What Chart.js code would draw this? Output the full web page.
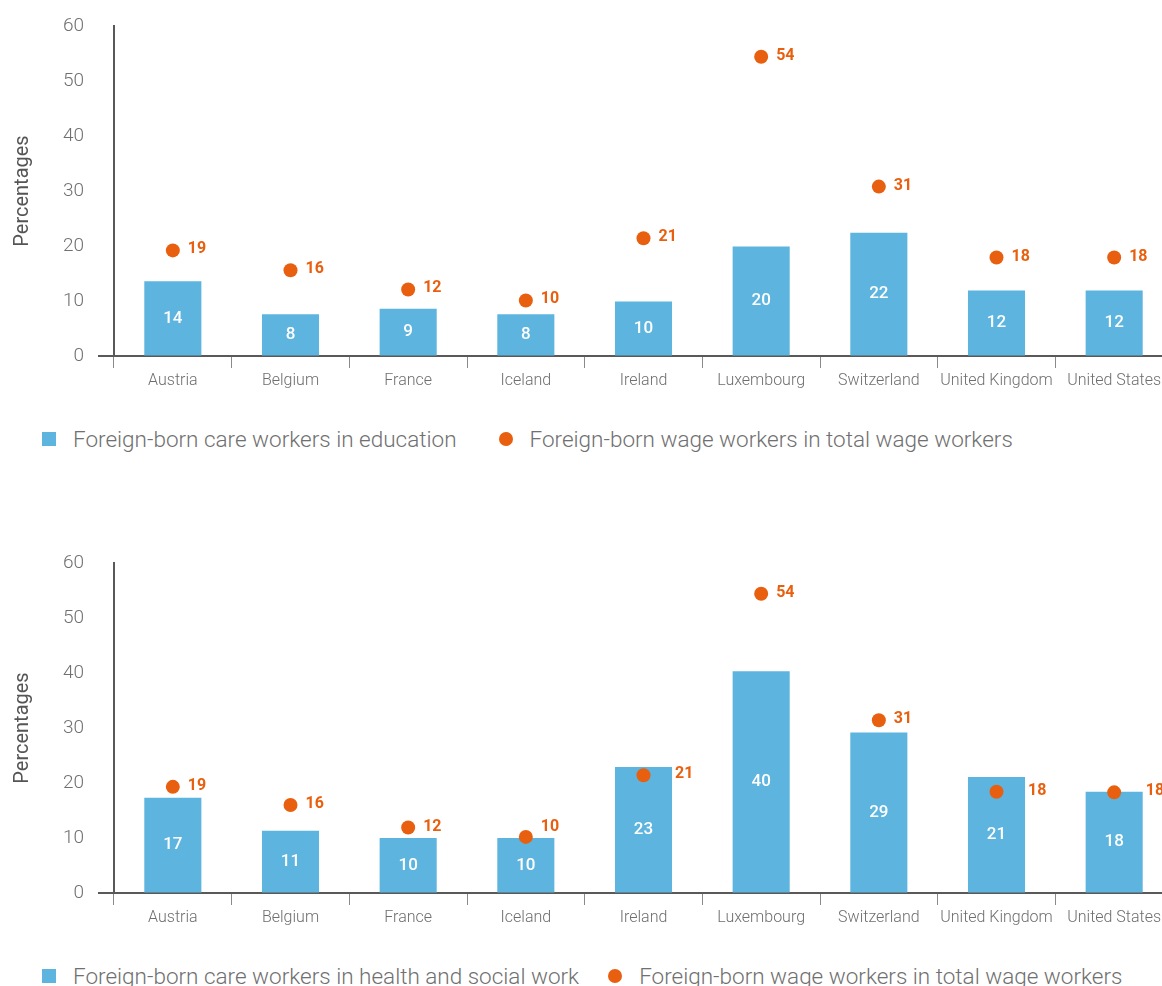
<!DOCTYPE html>
<html>
<head>
<meta charset="utf-8">
<script src="https://cdn.jsdelivr.net/npm/chart.js@4/dist/chart.umd.min.js"></script>
<style>
  body { margin: 0; background: #fff; width: 1162px; height: 986px; overflow: hidden; position: relative;
         font-family: "Helvetica Neue", Roboto, "Liberation Sans", sans-serif; }
  .panel { position: absolute; left: 0; width: 1180px; height: 537px; }
  .box { position: absolute; left: 0; top: 0; width: 1180px; height: 416px; }
  .legend { position: absolute; left: 42px; top: 426px; display: flex; align-items: center;
            font-size: 22.5px; font-weight: 300; color: #707070; white-space: nowrap; line-height: 26px; }
  .legend .sq { width: 14px; height: 14px; background: #5DB4DF; margin-right: 17px; }
  .legend .dot { width: 14px; height: 14px; border-radius: 50%; background: #E8600F; margin-left: 42px; margin-right: 17px; }
  #legendBottom .dot { margin-left: 29px; }
</style>
</head>
<body>
<div class="panel" style="top:0">
  <div class="box"><canvas id="chartTop"></canvas></div>
  <div class="legend"><span class="sq"></span><span>Foreign-born care workers in education</span><span class="dot"></span><span>Foreign-born wage workers in total wage workers</span></div>
</div>
<div class="panel" style="top:537px">
  <div class="box"><canvas id="chartBottom"></canvas></div>
  <div class="legend" id="legendBottom"><span class="sq"></span><span>Foreign-born care workers in health and social work</span><span class="dot"></span><span>Foreign-born wage workers in total wage workers</span></div>
</div>
<script>
const countries = ["Austria", "Belgium", "France", "Iceland", "Ireland", "Luxembourg", "Switzerland", "United Kingdom", "United States"];
const yTicks = [0, 10, 20, 30, 40, 50, 60];

// top panel
const educationShare = [13.6, 7.6, 8.6, 7.6, 9.9, 19.9, 22.4, 11.9, 11.9];
const wageShareTop = [19.2, 15.6, 12.1, 10.1, 21.4, 54.4, 30.8, 17.9, 17.9];

// bottom panel
const healthShare = [17.3, 11.3, 10.0, 10.0, 22.9, 40.3, 29.2, 21.1, 18.4];
const wageShareBottom = [19.3, 16.0, 11.9, 10.2, 21.4, 54.4, 31.4, 18.4, 18.3];

const BLUE = "#5DB4DF";
const ORANGE = "#E8600F";
const AXIS = "#595959";
const FONT = "'Helvetica Neue', Roboto, 'Liberation Sans', sans-serif";

const labelPlugin = {
    id: "labels",
    afterDatasetsDraw(chart) {
        const ctx = chart.ctx;
        const bars = chart.getDatasetMeta(0).data;
        const dots = chart.getDatasetMeta(1).data;
        const barVals = chart.data.datasets[0].data;
        const dotVals = chart.data.datasets[1].data;
        ctx.save();
        // x axis runs a little past the y axis
        const zeroY = chart.scales.y.getPixelForValue(0);
        ctx.strokeStyle = AXIS;
        ctx.lineWidth = 2;
        ctx.beginPath();
        ctx.moveTo(chart.chartArea.left - 16, zeroY);
        ctx.lineTo(chart.chartArea.left, zeroY);
        ctx.stroke();

        ctx.textBaseline = "middle";
        ctx.textAlign = "center";
        ctx.fillStyle = "#fff";
        ctx.font = "500 17px " + FONT;
        bars.forEach((b, i) => {
            ctx.fillText(Math.round(barVals[i]), b.x, (b.y + b.base) / 2);
        });

        ctx.textAlign = "left";
        ctx.fillStyle = ORANGE;
        ctx.font = "bold 16px " + FONT;
        dots.forEach((p, i) => {
            const bar = bars[i];
            let x = p.x + 15, y = p.y - 1;
            if (dotVals[i] <= barVals[i]) {
                x = bar.x + bar.width / 2 + 3;
            } else if (dotVals[i] - barVals[i] < 1.5) {
                y = p.y - 10;
            }
            ctx.fillText(Math.round(dotVals[i]), x, y);
        });
        ctx.restore();
    }
};

function makeChart(id, barData, dotData) {
    return new Chart(document.getElementById(id), {
        type: "bar",
        data: {
            labels: countries,
            datasets: [
                {data: barData, backgroundColor: BLUE, barPercentage: 0.485, categoryPercentage: 1, order: 2},
                {type: "line", data: dotData, showLine: false, pointRadius: 7, pointHoverRadius: 7,
                 pointBackgroundColor: ORANGE, pointBorderWidth: 0, borderColor: ORANGE, order: 1}
            ]
        },
        options: {
            responsive: true,
            maintainAspectRatio: false,
            animation: false,
            layout: {padding: {top: 26, left: 0, right: 0, bottom: 0}},
            plugins: {legend: {display: false}, tooltip: {enabled: false}},
            scales: {
                x: {
                    offset: true,
                    grid: {display: true, drawOnChartArea: false, drawTicks: true, tickLength: 12, color: "#8a8a8a", lineWidth: 1, offset: true},
                    border: {display: true, color: AXIS, width: 2},
                    ticks: {color: "#6e6e6e", font: {family: FONT, size: 16, weight: 300}, padding: 3, maxRotation: 0, autoSkip: false},
                    afterFit: s => { s.height = 60; }
                },
                y: {
                    min: 0, max: 60,
                    afterBuildTicks: s => { s.ticks = yTicks.map(v => ({value: v})); },
                    grid: {display: true, drawOnChartArea: false, drawTicks: true, tickLength: 30, tickColor: "rgba(0,0,0,0)"},
                    border: {display: true, color: AXIS, width: 2},
                    ticks: {color: "#707070", font: {family: FONT, size: 19, weight: 300}, padding: 0},
                    title: {display: true, text: "Percentages", color: "#555", font: {family: FONT, size: 20}, padding: {top: 11, bottom: 0}},
                    afterFit: s => { s.width = 114; }
                }
            }
        },
        plugins: [labelPlugin]
    });
}

makeChart("chartTop", educationShare, wageShareTop);
makeChart("chartBottom", healthShare, wageShareBottom);
</script>
</body>
</html>
